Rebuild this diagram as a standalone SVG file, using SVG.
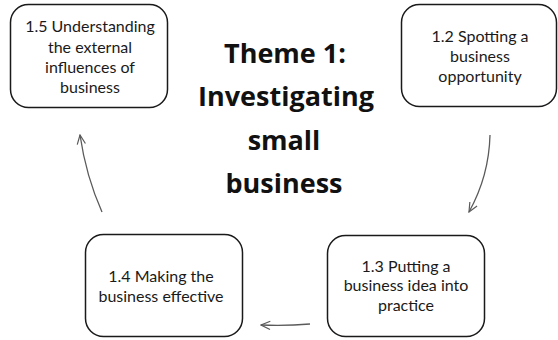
<svg xmlns="http://www.w3.org/2000/svg" width="558" height="340" viewBox="0 0 558 340">
  <style>
    .box { fill: #ffffff; stroke: #1a1a1a; stroke-width: 1.5; }
    .label { font-family: Lato, "Open Sans", sans-serif; font-size: 16px; fill: #1a1a1a; text-anchor: middle; }
    .title { font-family: "Open Sans", "Noto Sans", sans-serif; font-size: 27px; font-weight: bold; fill: #111111; text-anchor: middle; }
    .link { fill: none; stroke: #5a5a5a; stroke-width: 1.3; }
  </style>
  <defs>
    <marker id="arrow" viewBox="0 0 12 12" refX="11" refY="6" markerWidth="11" markerHeight="11" markerUnits="userSpaceOnUse" orient="auto">
      <path d="M1,1.5 L11,6 L1,10.5" fill="none" stroke="#5a5a5a" stroke-width="1.3"/>
    </marker>
  </defs>
  <rect width="558" height="340" fill="#ffffff"/>

  <!-- central theme heading -->
  <g id="theme">
    <text class="title" x="285" y="63">Theme 1:</text>
    <text class="title" x="286" y="106">Investigating</text>
    <text class="title" x="284" y="150">small</text>
    <text class="title" x="284" y="193">business</text>
  </g>

  <!-- topic boxes -->
  <g id="topic-1-5">
    <rect class="box" x="10.5" y="4.5" width="157" height="103" rx="18"/>
    <text class="label" x="90" y="32">1.5 Understanding</text>
    <text class="label" x="90" y="52.5">the external</text>
    <text class="label" x="90" y="72.5">influences of</text>
    <text class="label" x="90" y="92.5">business</text>
  </g>
  <g id="topic-1-2">
    <rect class="box" x="401.5" y="4.5" width="155" height="102" rx="18"/>
    <text class="label" x="480" y="42">1.2 Spotting a</text>
    <text class="label" x="480" y="62">business</text>
    <text class="label" x="480" y="82">opportunity</text>
  </g>
  <g id="topic-1-3">
    <rect class="box" x="327.5" y="235.5" width="157" height="101" rx="18"/>
    <text class="label" x="406" y="271.5">1.3 Putting a</text>
    <text class="label" x="406" y="291">business idea into</text>
    <text class="label" x="406" y="310.5">practice</text>
  </g>
  <g id="topic-1-4">
    <rect class="box" x="85.5" y="234.5" width="157" height="102" rx="18"/>
    <text class="label" x="161" y="282">1.4 Making the</text>
    <text class="label" x="161" y="302">business effective</text>
  </g>

  <!-- cycle connectors -->
  <g id="connectors">
    <path class="link" d="M490,135 Q489,176 469,212" marker-end="url(#arrow)"/>
    <path class="link" d="M310,324 Q286,326 261,325" marker-end="url(#arrow)"/>
    <path class="link" d="M102,212 Q86,176 80,135" marker-end="url(#arrow)"/>
  </g>
</svg>
